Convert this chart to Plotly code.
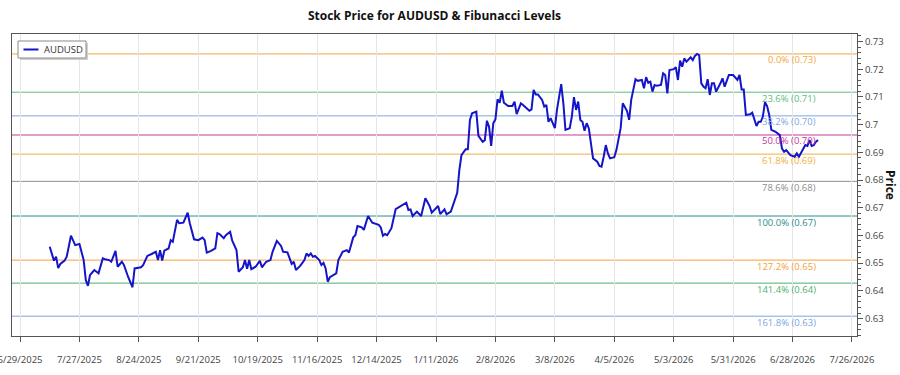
import plotly.graph_objects as go
import pandas as pd

# ---------------- data ----------------
dates = [
    "2025-07-13", "2025-07-15", "2025-07-16", "2025-07-17", "2025-07-18", "2025-07-20", "2025-07-21", "2025-07-23",
    "2025-07-25", "2025-07-27", "2025-07-29", "2025-07-30", "2025-07-31", "2025-08-01", "2025-08-03", "2025-08-04",
    "2025-08-05", "2025-08-07", "2025-08-08", "2025-08-10", "2025-08-11", "2025-08-13", "2025-08-14", "2025-08-16",
    "2025-08-17", "2025-08-19", "2025-08-21", "2025-08-22", "2025-08-25", "2025-08-26", "2025-08-28", "2025-08-30",
    "2025-09-01", "2025-09-02", "2025-09-03", "2025-09-04", "2025-09-05", "2025-09-07", "2025-09-08", "2025-09-09",
    "2025-09-11", "2025-09-12", "2025-09-14", "2025-09-16", "2025-09-17", "2025-09-19", "2025-09-21", "2025-09-23",
    "2025-09-24", "2025-09-25", "2025-09-27", "2025-09-29", "2025-09-30", "2025-10-01", "2025-10-03", "2025-10-04",
    "2025-10-06", "2025-10-07", "2025-10-09", "2025-10-10", "2025-10-12", "2025-10-13", "2025-10-14", "2025-10-15",
    "2025-10-16", "2025-10-18", "2025-10-19", "2025-10-20", "2025-10-21", "2025-10-23", "2025-10-25", "2025-10-26",
    "2025-10-28", "2025-10-30", "2025-10-31", "2025-11-02", "2025-11-04", "2025-11-05", "2025-11-06", "2025-11-08",
    "2025-11-10", "2025-11-11", "2025-11-12", "2025-11-13", "2025-11-14", "2025-11-15", "2025-11-17", "2025-11-18",
    "2025-11-19", "2025-11-20", "2025-11-21", "2025-11-22", "2025-11-25", "2025-11-26", "2025-11-28", "2025-11-30",
    "2025-12-01", "2025-12-03", "2025-12-04", "2025-12-05", "2025-12-07", "2025-12-08", "2025-12-10", "2025-12-12",
    "2025-12-15", "2025-12-16", "2025-12-17", "2025-12-18", "2025-12-19", "2025-12-21", "2025-12-23", "2025-12-25",
    "2025-12-28", "2025-12-29", "2025-12-30", "2025-12-31", "2026-01-02", "2026-01-04", "2026-01-06", "2026-01-08",
    "2026-01-09", "2026-01-12", "2026-01-13", "2026-01-15", "2026-01-16", "2026-01-18", "2026-01-19", "2026-01-21",
    "2026-01-22", "2026-01-23", "2026-01-25", "2026-01-26", "2026-01-27", "2026-01-28", "2026-01-30", "2026-01-31",
    "2026-02-02", "2026-02-03", "2026-02-04", "2026-02-05", "2026-02-06", "2026-02-07", "2026-02-08", "2026-02-09",
    "2026-02-10", "2026-02-11", "2026-02-12", "2026-02-14", "2026-02-16", "2026-02-17", "2026-02-18", "2026-02-20",
    "2026-02-21", "2026-02-23", "2026-02-24", "2026-02-25", "2026-02-26", "2026-02-27", "2026-02-28", "2026-03-02",
    "2026-03-03", "2026-03-04", "2026-03-05", "2026-03-06", "2026-03-07", "2026-03-08", "2026-03-09", "2026-03-10",
    "2026-03-11", "2026-03-12", "2026-03-13", "2026-03-15", "2026-03-16", "2026-03-17", "2026-03-18", "2026-03-19",
    "2026-03-20", "2026-03-21", "2026-03-22", "2026-03-23", "2026-03-24", "2026-03-26", "2026-03-28", "2026-03-29",
    "2026-03-30", "2026-03-31", "2026-04-01", "2026-04-02", "2026-04-03", "2026-04-05", "2026-04-06", "2026-04-08",
    "2026-04-09", "2026-04-11", "2026-04-12", "2026-04-13", "2026-04-15", "2026-04-16", "2026-04-18", "2026-04-19",
    "2026-04-20", "2026-04-21", "2026-04-22", "2026-04-23", "2026-04-24", "2026-04-25", "2026-04-27", "2026-04-28",
    "2026-04-29", "2026-04-30", "2026-05-01", "2026-05-03", "2026-05-04", "2026-05-05", "2026-05-06", "2026-05-07",
    "2026-05-08", "2026-05-09", "2026-05-11", "2026-05-12", "2026-05-13", "2026-05-14", "2026-05-15", "2026-05-16",
    "2026-05-17", "2026-05-18", "2026-05-19", "2026-05-20", "2026-05-21", "2026-05-22", "2026-05-23", "2026-05-25",
    "2026-05-26", "2026-05-27", "2026-05-29", "2026-05-31", "2026-06-02", "2026-06-03", "2026-06-04", "2026-06-05",
    "2026-06-06", "2026-06-08", "2026-06-09", "2026-06-11", "2026-06-12", "2026-06-13", "2026-06-14", "2026-06-15",
    "2026-06-16", "2026-06-17", "2026-06-18", "2026-06-20", "2026-06-22", "2026-06-23", "2026-06-24", "2026-06-25",
    "2026-06-27", "2026-06-29", "2026-06-30", "2026-07-01", "2026-07-03", "2026-07-04", "2026-07-05", "2026-07-06",
    "2026-07-07", "2026-07-08", "2026-07-09", "2026-07-10",
]

prices = [
    0.6559, 0.6509, 0.6523, 0.6482, 0.6497, 0.6509, 0.6523, 0.6599,
    0.6565, 0.6569, 0.6511, 0.6439, 0.6418, 0.6457, 0.6475, 0.6469,
    0.6463, 0.6517, 0.6514, 0.6511, 0.6505, 0.6544, 0.6487, 0.6505,
    0.6493, 0.6449, 0.6413, 0.6481, 0.6485, 0.6493, 0.6526, 0.6533,
    0.6541, 0.6511, 0.6547, 0.6509, 0.6545, 0.6553, 0.6583, 0.6577,
    0.6656, 0.6644, 0.6646, 0.6682, 0.6644, 0.6586, 0.6583, 0.6592,
    0.6583, 0.6538, 0.6544, 0.6553, 0.6608, 0.6605, 0.6590, 0.6601,
    0.6613, 0.6581, 0.6547, 0.6469, 0.6485, 0.6511, 0.6480, 0.6511,
    0.6478, 0.6487, 0.6499, 0.6508, 0.6485, 0.6505, 0.6511, 0.6541,
    0.6580, 0.6562, 0.6541, 0.6539, 0.6497, 0.6505, 0.6475, 0.6490,
    0.6511, 0.6535, 0.6526, 0.6535, 0.6523, 0.6526, 0.6511, 0.6493,
    0.6501, 0.6481, 0.6433, 0.6449, 0.6463, 0.6511, 0.6541, 0.6547,
    0.6538, 0.6593, 0.6601, 0.6634, 0.6629, 0.6620, 0.6670, 0.6646,
    0.6638, 0.6629, 0.6599, 0.6605, 0.6601, 0.6626, 0.6695, 0.6704,
    0.6718, 0.6692, 0.6694, 0.6670, 0.6686, 0.6670, 0.6734, 0.6706,
    0.6682, 0.6706, 0.6677, 0.6694, 0.6676, 0.6686, 0.6710, 0.6754,
    0.6836, 0.6890, 0.6911, 0.6911, 0.7017, 0.7041, 0.7047, 0.6959,
    0.6938, 0.6944, 0.7014, 0.6992, 0.6923, 0.7005, 0.7019, 0.7091,
    0.7079, 0.7122, 0.7079, 0.7067, 0.7067, 0.7083, 0.7038, 0.7077,
    0.7071, 0.7059, 0.7050, 0.7055, 0.7125, 0.7109, 0.7109, 0.7089,
    0.7065, 0.7071, 0.7010, 0.7023, 0.7005, 0.6987, 0.7053, 0.7095,
    0.7146, 0.7077, 0.6981, 0.6987, 0.7029, 0.7099, 0.7053, 0.7083,
    0.7017, 0.7010, 0.6978, 0.7005, 0.6987, 0.6878, 0.6866, 0.6851,
    0.6848, 0.6884, 0.6926, 0.6896, 0.6878, 0.6882, 0.6908, 0.6987,
    0.7077, 0.7049, 0.7017, 0.7090, 0.7164, 0.7158, 0.7161, 0.7131,
    0.7171, 0.7151, 0.7155, 0.7119, 0.7143, 0.7140, 0.7143, 0.7185,
    0.7179, 0.7113, 0.7197, 0.7200, 0.7207, 0.7161, 0.7231, 0.7209,
    0.7239, 0.7227, 0.7243, 0.7233, 0.7248, 0.7255, 0.7251, 0.7149,
    0.7137, 0.7131, 0.7164, 0.7107, 0.7149, 0.7149, 0.7119, 0.7149,
    0.7167, 0.7137, 0.7179, 0.7179, 0.7161, 0.7179, 0.7127, 0.7127,
    0.7035, 0.7037, 0.7043, 0.6995, 0.7010, 0.7010, 0.7029, 0.7081,
    0.7067, 0.7035, 0.6981, 0.6974, 0.6962, 0.6914, 0.6902, 0.6908,
    0.6890, 0.6884, 0.6896, 0.6884, 0.6914, 0.6926, 0.6923, 0.6944,
    0.6923, 0.6926, 0.6938, 0.6944,
]

# Fibonacci swing range (as read from the 0% and 100% lines)
fib_high = 0.7255
fib_low = 0.6670
fib_ratios = [0.0, 0.236, 0.382, 0.5, 0.618, 0.786, 1.0, 1.272, 1.414, 1.618]
fib_colors = ["#F3A640", "#5DBB7B", "#7FA7E2", "#C23A9C", "#F0B03E",
              "#8E8E8E", "#2B8D8D", "#F4A03C", "#4DAF6C", "#7EA3E3"]

y_tickvals = [0.63, 0.64, 0.65, 0.66, 0.67, 0.68, 0.69, 0.70, 0.71, 0.72, 0.73]
y_ticktext = ["0.63", "0.64", "0.65", "0.66", "0.67", "0.68", "0.69", "0.7", "0.71", "0.72", "0.73"]

x_ticks = pd.date_range("2025-06-29", "2026-07-26", freq="28D")
x_ticktext = [f"{d.month}/{d.day}/{d.year}" for d in x_ticks]

# ---------------- layout geometry ----------------
W, H = 900, 375
ML, MR, MT, MB = 12, 43, 34, 39
PW, PH = W - ML - MR, H - MT - MB


def px_x(px):
    return (px - ML) / PW


def px_y(py):
    return (H - MB - py) / PH


FONT = "Open Sans"
AXIS_COLOR = "#555555"

fig = go.Figure()
fig.add_trace(go.Scatter(
    x=pd.to_datetime(dates), y=prices, mode="lines", name="AUDUSD",
    line=dict(color="#1414C8", width=2),
))

shapes = []
annotations = []
for r, c in zip(fib_ratios, fib_colors):
    lvl = fib_high - r * (fib_high - fib_low)
    shapes.append(dict(type="line", xref="paper", yref="y", x0=0, x1=1, y0=lvl, y1=lvl,
                       line=dict(color=c, width=1), layer="below"))
    annotations.append(dict(xref="paper", yref="y", x=px_x(818), y=lvl, xanchor="right",
                            yanchor="middle", yshift=-6, showarrow=False,
                            text=f"{r*100:.1f}% ({lvl:.2f})",
                            font=dict(family=FONT, size=9.5, color=c)))

# manual legend box
shapes.append(dict(type="rect", xref="paper", yref="paper",
                   x0=px_x(20), x1=px_x(88), y0=px_y(60), y1=px_y(43),
                   line=dict(width=0), fillcolor="#D0D0D0"))
shapes.append(dict(type="rect", xref="paper", yref="paper",
                   x0=px_x(18), x1=px_x(86), y0=px_y(58), y1=px_y(41),
                   line=dict(color="#8A8A8A", width=1), fillcolor="white"))
shapes.append(dict(type="line", xref="paper", yref="paper",
                   x0=px_x(23.5), x1=px_x(38.5), y0=px_y(49.5), y1=px_y(49.5),
                   line=dict(color="#1414C8", width=2)))
annotations.append(dict(xref="paper", yref="paper", x=px_x(42), y=px_y(49.5),
                        xanchor="left", yanchor="middle", showarrow=False, text="AUDUSD",
                        font=dict(family=FONT, size=9.5, color="#333333")))

# right axis title, reading downward
annotations.append(dict(xref="paper", yref="paper", x=px_x(891), y=0.5, xanchor="center",
                        yanchor="middle", showarrow=False, text="<b>Price</b>", textangle=90,
                        font=dict(family=FONT, size=12, color="#111111")))

fig.update_layout(
    width=W, height=H,
    margin=dict(l=ML, r=MR, t=MT, b=MB, autoexpand=False),
    paper_bgcolor="white", plot_bgcolor="white",
    showlegend=False,
    font=dict(family=FONT, size=9.5, color="#444444"),
    title=dict(text="Stock Price for AUDUSD & Fibunacci Levels", x=px_x(434.5), xref="paper",
               xanchor="center", y=1 - 16 / H, yref="container", yanchor="middle",
               font=dict(family=FONT, size=12, color="#111111", weight="bold")),
    shapes=shapes,
    annotations=annotations,
)

fig.update_xaxes(
    type="date",
    range=["2025-06-25 05:30", "2026-07-28 08:40"],
    tickvals=x_ticks, ticktext=x_ticktext,
    showgrid=True, gridcolor="#E6E6E6", gridwidth=1,
    showline=True, linecolor=AXIS_COLOR, linewidth=1, mirror=True,
    ticks="outside", ticklen=5, tickcolor=AXIS_COLOR,
    ticklabelstandoff=10, ticklabeloverflow="allow",
    automargin=False,
    tickfont=dict(family=FONT, size=9.5, color="#444444"),
    zeroline=False,
)
fig.update_yaxes(
    side="right",
    range=[0.6237, 0.7327],
    tickvals=y_tickvals, ticktext=y_ticktext,
    showgrid=False,
    showline=True, linecolor=AXIS_COLOR, linewidth=1, mirror=True,
    ticks="outside", ticklen=5, tickcolor=AXIS_COLOR,
    minor=dict(ticks="outside", ticklen=3, dtick=0.002, tick0=0.63, tickcolor=AXIS_COLOR, showgrid=False),
    automargin=False,
    tickfont=dict(family=FONT, size=9.5, color="#444444"),
    zeroline=False,
)

fig.write_html("out.html")
